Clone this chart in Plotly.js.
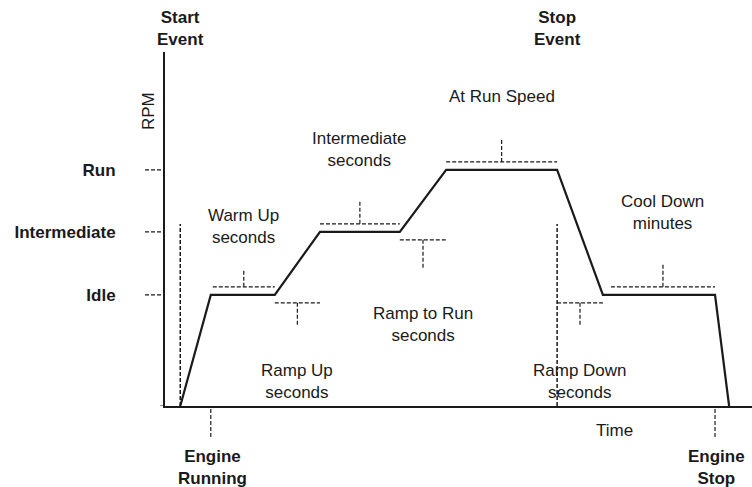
<!DOCTYPE html>
<html><head><meta charset="utf-8">
<script src="https://cdn.plot.ly/plotly-3.0.1.min.js"></script>
<style>html,body{margin:0;padding:0;background:#fff}</style>
</head><body><div id="chart" style="width:752px;height:487px"></div>
<script>
// ---------- data ----------
const levelNames = ['Idle', 'Intermediate', 'Run'];
const levelRpm = [31.4, 49.2, 66.7];
const time = [2.6, 7.8, 18.7, 26.4, 40.0, 47.9, 66.8, 74.6, 93.7, 96.1];
const rpm = [0, 31.4, 31.4, 49.2, 49.2, 66.7, 66.7, 31.4, 31.4, 0];
const phaseLabels = ['Warm Up<br>seconds', 'Ramp Up<br>seconds', 'Intermediate<br>seconds',
  'Ramp to Run<br>seconds', 'At Run Speed', 'Ramp Down<br>seconds', 'Cool Down<br>minutes'];
const phaseStart = [1, 2, 3, 4, 5, 6, 7];      // profile point where each phase begins
const eventLabels = ['Start<br>Event', 'Stop<br>Event'];
const eventIndex = [0, 6];
const stateLabels = ['Engine<br>Running', 'Engine<br>Stop'];
const stateIndex = [1, 8];
const axisLabels = ['RPM', 'Time'];

// ---------- style / layout helpers ----------
const X_RANGE = [0, 100], Y_RANGE = [0, 100];
const PX_X = 587 / 100, PX_Y = 354 / 100;       // pixels per data unit
const FONT = 'Liberation Sans, Arial, Helvetica, sans-serif';
const INK = '#1a1a1a';
const labelY = [50.6, 6.9, 72.6, 22.9, 87.3, 6.9, 54.8];
const tickPx = [16, 24, 24, 28, 24, 24, 23];
const insetPx = [2, 0, 0, 0, 0, 0, 8];
const bracketGap = 8 / PX_Y;
const DASH = '4px,2px';
const px = v => (v - X_RANGE[0]) / (X_RANGE[1] - X_RANGE[0]);   // data x -> paper
const py = v => (v - Y_RANGE[0]) / (Y_RANGE[1] - Y_RANGE[0]);   // data y -> paper

// brackets derived from profile
const bx = [], by = [];
const phaseMid = [];
phaseStart.forEach((a, i) => {
  const b = a + 1;
  const plateau = rpm[a] === rpm[b];
  const lvl = Math.min(rpm[a], rpm[b]);
  const dir = plateau ? 1 : -1;
  const y = lvl + dir * bracketGap;
  const x0 = time[a] + insetPx[i] / PX_X, x1 = time[b];
  const xm = (x0 + x1) / 2;
  phaseMid.push(xm);
  bx.push(x0, x1, null, xm, xm, null);
  by.push(y, y, null, y, y + dir * tickPx[i] / PX_Y, null);
});

// event lines
const ex = [], ey = [];
const eventTop = (406 - 224) / PX_Y;
eventIndex.forEach(k => { ex.push(time[k], time[k], null); ey.push(0, eventTop, null); });

const traces = [
  { x: ex, y: ey, mode: 'lines', line: { color: INK, width: 1.5, dash: DASH }, hoverinfo: 'skip' },
  { x: bx, y: by, mode: 'lines', line: { color: INK, width: 1.2, dash: DASH }, hoverinfo: 'skip' },
  { x: time, y: rpm, mode: 'lines', line: { color: INK, width: 2.2 }, hoverinfo: 'skip' }
];

const shapes = [];
levelRpm.forEach(v => shapes.push({ type: 'line', xref: 'paper', yref: 'y', x0: -20 / 587, x1: 0, y0: v, y1: v,
  line: { color: INK, width: 1.2, dash: DASH } }));
shapes.push({ type: 'line', xref: 'paper', yref: 'y', x0: -5 / 587, x1: 0, y0: 0, y1: 0, line: { color: INK, width: 1 } });
stateIndex.forEach(k => shapes.push({ type: 'line', xref: 'x', yref: 'paper', x0: time[k], x1: time[k],
  y0: -3 / 354, y1: -31 / 354, line: { color: INK, width: 1.2, dash: DASH } }));

const ann = [];
const boldFont = { family: FONT, size: 17, color: INK, weight: 'bold' };
const regFont = { family: FONT, size: 17, color: INK };
eventIndex.forEach((k, i) => ann.push({ x: px(time[k]), y: py(106.5), xref: 'paper', yref: 'paper', text: eventLabels[i],
  showarrow: false, font: boldFont, xanchor: 'center', yanchor: 'middle' }));
stateIndex.forEach((k, i) => ann.push({ x: px(time[k] + 0.3), y: py(-17.4), xref: 'paper', yref: 'paper', text: stateLabels[i],
  showarrow: false, font: boldFont, xanchor: 'center', yanchor: 'middle' }));
phaseLabels.forEach((t, i) => ann.push({ x: phaseMid[i], y: labelY[i], xref: 'x', yref: 'y', text: t,
  showarrow: false, font: regFont, xanchor: 'center', yanchor: 'middle' }));
ann.push({ x: px(-2.9), y: py(83.3), xref: 'paper', yref: 'paper', text: axisLabels[0], textangle: -90, showarrow: false,
  font: regFont, xanchor: 'center', yanchor: 'middle' });
ann.push({ x: px(76.5), y: py(-7.06), xref: 'paper', yref: 'paper', text: axisLabels[1], showarrow: false,
  font: regFont, xanchor: 'center', yanchor: 'middle' });

const layout = {
  width: 752, height: 487,
  margin: { l: 165, r: 0, t: 52, b: 81, pad: 0 },
  paper_bgcolor: '#fff', plot_bgcolor: '#fff',
  showlegend: false,
  xaxis: { range: X_RANGE, showline: true, linewidth: 2, linecolor: INK, showgrid: false, zeroline: false,
    showticklabels: false, ticks: '', fixedrange: true },
  yaxis: { range: Y_RANGE, showline: true, linewidth: 2, linecolor: INK, showgrid: false, zeroline: false,
    tickvals: levelRpm, ticktext: levelNames, ticks: '', ticklabelstandoff: 44,
    tickfont: boldFont, fixedrange: true },
  shapes: shapes,
  annotations: ann
};

Plotly.newPlot('chart', traces, layout, { staticPlot: true, displayModeBar: false });
</script></body></html>
